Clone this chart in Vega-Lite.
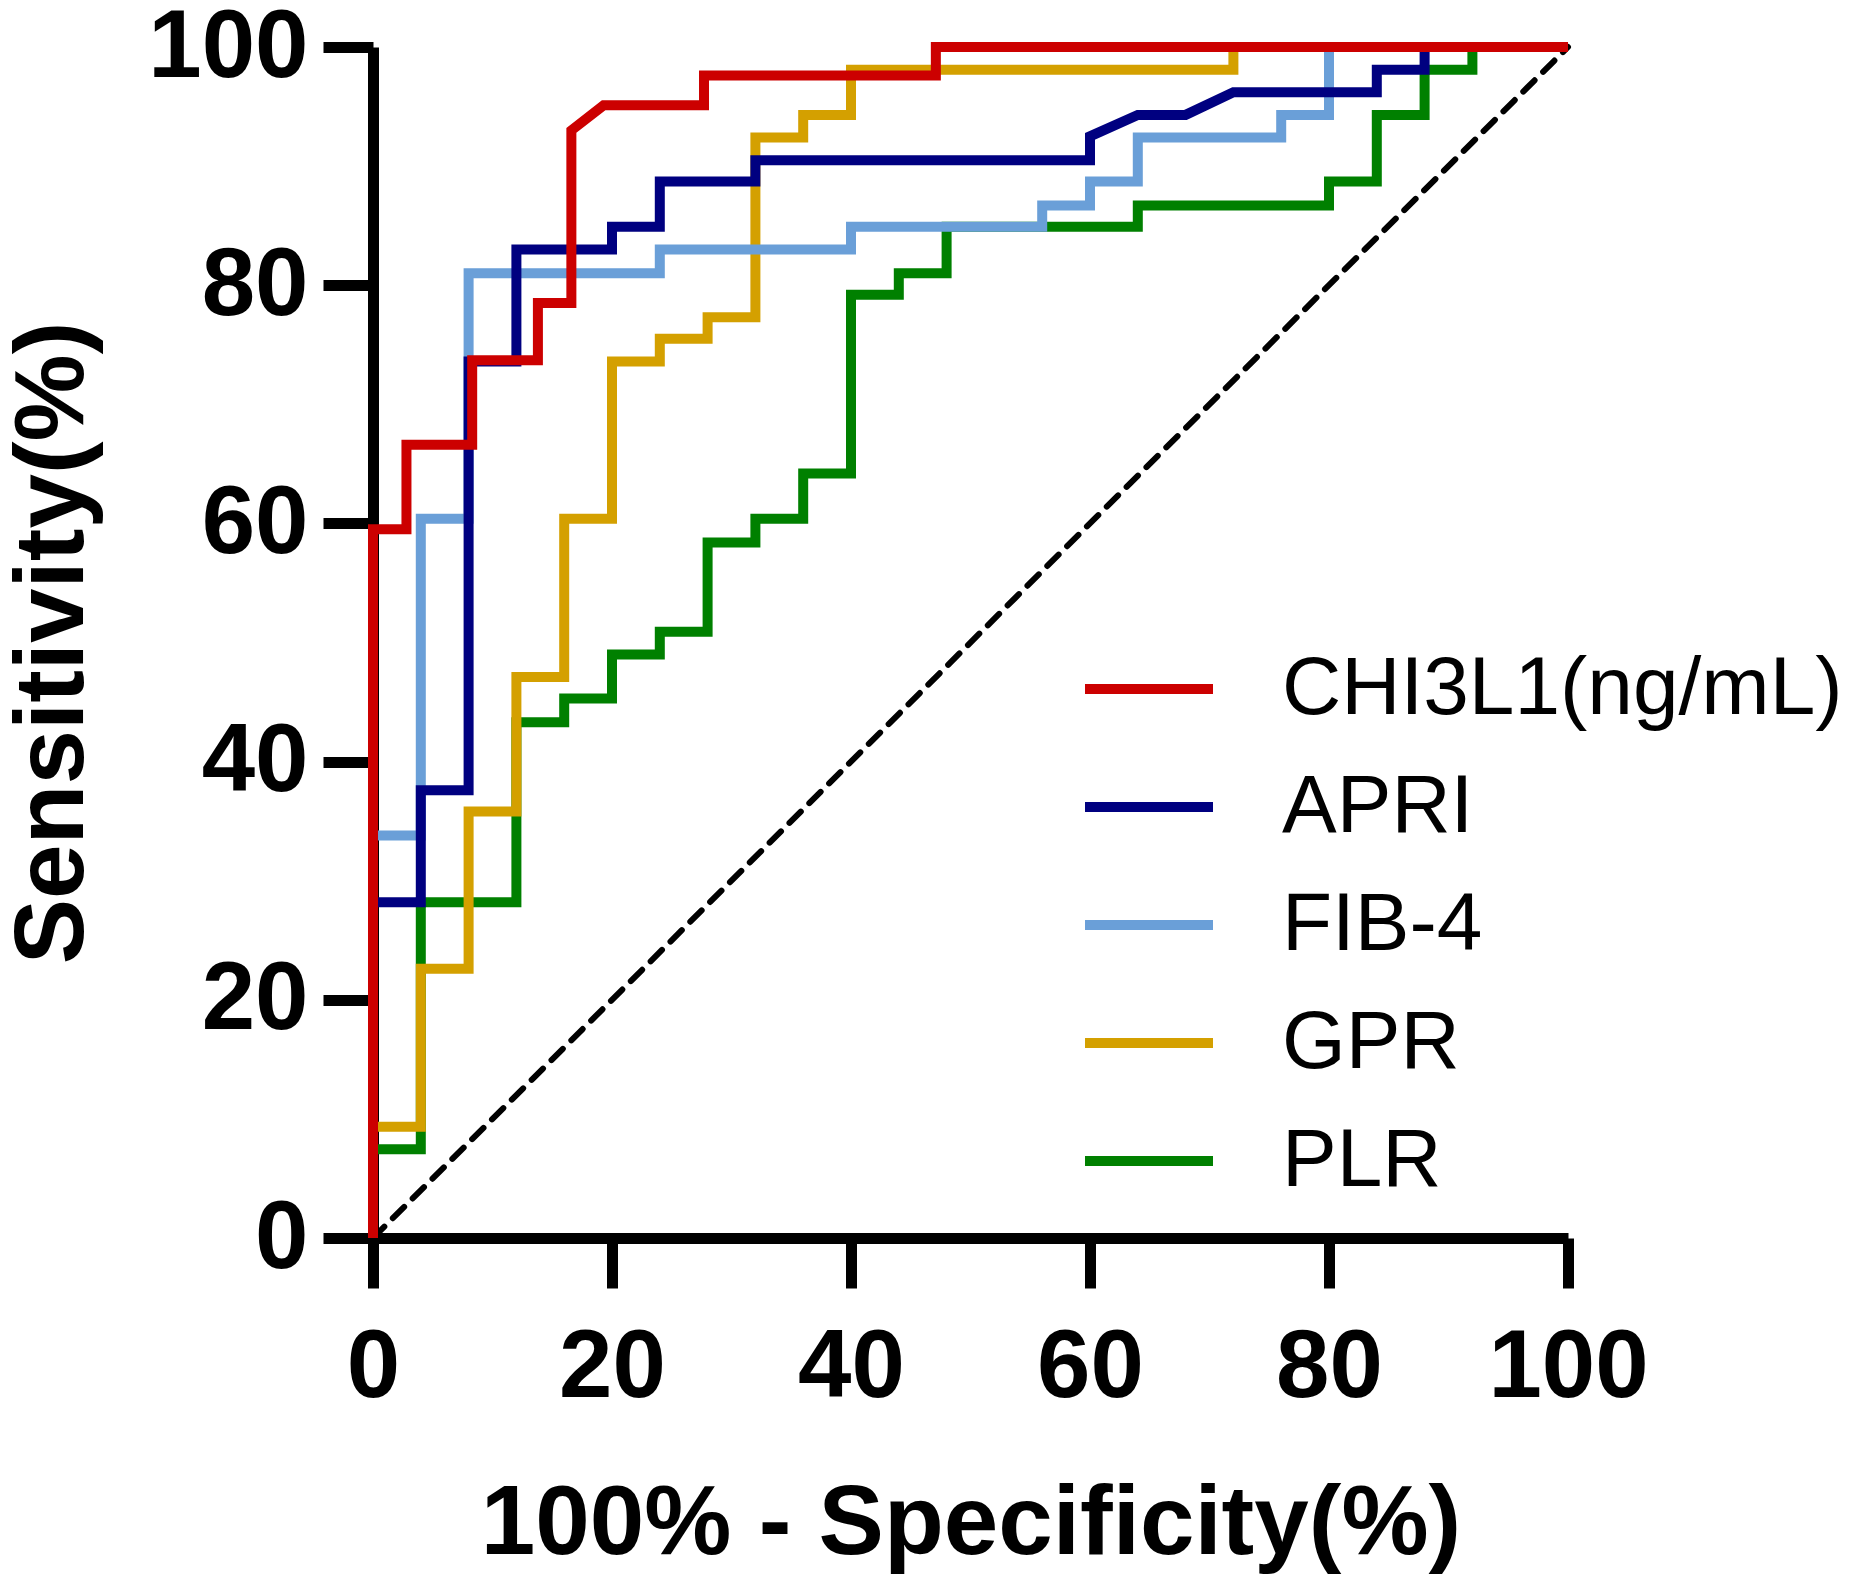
{
  "$schema": "https://vega.github.io/schema/vega-lite/v6.json",
  "width": 1195,
  "height": 1191,
  "autosize": {"type": "none"},
  "padding": {"left": 373, "top": 47, "right": 283, "bottom": 350},
  "background": "white",
  "config": {"view": {"stroke": null}, "font": "Liberation Sans"},
  "datasets": {
    "diag": [{"x": 0, "y": 0}, {"x": 100, "y": 100}],
    "roc": [
      {"m": "PLR", "x": 0, "y": 0}, {"m": "PLR", "x": 0, "y": 7.45}, {"m": "PLR", "x": 4, "y": 7.45}, {"m": "PLR", "x": 4, "y": 28.2},
      {"m": "PLR", "x": 12, "y": 28.2}, {"m": "PLR", "x": 12, "y": 43.3}, {"m": "PLR", "x": 16, "y": 43.3}, {"m": "PLR", "x": 16, "y": 45.3},
      {"m": "PLR", "x": 20, "y": 45.3}, {"m": "PLR", "x": 20, "y": 49.0}, {"m": "PLR", "x": 24, "y": 49.0}, {"m": "PLR", "x": 24, "y": 50.9},
      {"m": "PLR", "x": 28, "y": 50.9}, {"m": "PLR", "x": 28, "y": 58.4}, {"m": "PLR", "x": 32, "y": 58.4}, {"m": "PLR", "x": 32, "y": 60.4},
      {"m": "PLR", "x": 36, "y": 60.4}, {"m": "PLR", "x": 36, "y": 64.2}, {"m": "PLR", "x": 40, "y": 64.2}, {"m": "PLR", "x": 40, "y": 79.2},
      {"m": "PLR", "x": 44, "y": 79.2}, {"m": "PLR", "x": 44, "y": 81.0}, {"m": "PLR", "x": 48, "y": 81.0}, {"m": "PLR", "x": 48, "y": 84.9},
      {"m": "PLR", "x": 64, "y": 84.9}, {"m": "PLR", "x": 64, "y": 86.7}, {"m": "PLR", "x": 80, "y": 86.7}, {"m": "PLR", "x": 80, "y": 88.7},
      {"m": "PLR", "x": 84, "y": 88.7}, {"m": "PLR", "x": 84, "y": 94.3}, {"m": "PLR", "x": 88, "y": 94.3}, {"m": "PLR", "x": 88, "y": 98.1},
      {"m": "PLR", "x": 92, "y": 98.1}, {"m": "PLR", "x": 92, "y": 100}, {"m": "PLR", "x": 100, "y": 100},

      {"m": "GPR", "x": 0, "y": 0}, {"m": "GPR", "x": 0, "y": 9.35}, {"m": "GPR", "x": 4, "y": 9.35}, {"m": "GPR", "x": 4, "y": 22.6},
      {"m": "GPR", "x": 8, "y": 22.6}, {"m": "GPR", "x": 8, "y": 35.8}, {"m": "GPR", "x": 12, "y": 35.8}, {"m": "GPR", "x": 12, "y": 47.1},
      {"m": "GPR", "x": 16, "y": 47.1}, {"m": "GPR", "x": 16, "y": 60.4}, {"m": "GPR", "x": 20, "y": 60.4}, {"m": "GPR", "x": 20, "y": 73.6},
      {"m": "GPR", "x": 24, "y": 73.6}, {"m": "GPR", "x": 24, "y": 75.5}, {"m": "GPR", "x": 28, "y": 75.5}, {"m": "GPR", "x": 28, "y": 77.3},
      {"m": "GPR", "x": 32, "y": 77.3}, {"m": "GPR", "x": 32, "y": 92.4}, {"m": "GPR", "x": 36, "y": 92.4}, {"m": "GPR", "x": 36, "y": 94.3},
      {"m": "GPR", "x": 40, "y": 94.3}, {"m": "GPR", "x": 40, "y": 98.1}, {"m": "GPR", "x": 72, "y": 98.1}, {"m": "GPR", "x": 72, "y": 100},
      {"m": "GPR", "x": 100, "y": 100},

      {"m": "FIB-4", "x": 0, "y": 0}, {"m": "FIB-4", "x": 0, "y": 33.8}, {"m": "FIB-4", "x": 4, "y": 33.8}, {"m": "FIB-4", "x": 4, "y": 60.4},
      {"m": "FIB-4", "x": 8, "y": 60.4}, {"m": "FIB-4", "x": 8, "y": 81.0}, {"m": "FIB-4", "x": 24, "y": 81.0}, {"m": "FIB-4", "x": 24, "y": 83.0},
      {"m": "FIB-4", "x": 40, "y": 83.0}, {"m": "FIB-4", "x": 40, "y": 84.9}, {"m": "FIB-4", "x": 56, "y": 84.9}, {"m": "FIB-4", "x": 56, "y": 86.7},
      {"m": "FIB-4", "x": 60, "y": 86.7}, {"m": "FIB-4", "x": 60, "y": 88.7}, {"m": "FIB-4", "x": 64, "y": 88.7}, {"m": "FIB-4", "x": 64, "y": 92.4},
      {"m": "FIB-4", "x": 76, "y": 92.4}, {"m": "FIB-4", "x": 76, "y": 94.3}, {"m": "FIB-4", "x": 80, "y": 94.3}, {"m": "FIB-4", "x": 80, "y": 100},
      {"m": "FIB-4", "x": 100, "y": 100},

      {"m": "APRI", "x": 0, "y": 0}, {"m": "APRI", "x": 0, "y": 28.2}, {"m": "APRI", "x": 4, "y": 28.2}, {"m": "APRI", "x": 4, "y": 37.6},
      {"m": "APRI", "x": 8, "y": 37.6}, {"m": "APRI", "x": 8, "y": 73.6}, {"m": "APRI", "x": 12, "y": 73.6}, {"m": "APRI", "x": 12, "y": 83.0},
      {"m": "APRI", "x": 20, "y": 83.0}, {"m": "APRI", "x": 20, "y": 84.9}, {"m": "APRI", "x": 24, "y": 84.9}, {"m": "APRI", "x": 24, "y": 88.7},
      {"m": "APRI", "x": 32, "y": 88.7}, {"m": "APRI", "x": 32, "y": 90.5}, {"m": "APRI", "x": 60, "y": 90.5}, {"m": "APRI", "x": 60, "y": 92.5},
      {"m": "APRI", "x": 64, "y": 94.3}, {"m": "APRI", "x": 68, "y": 94.3}, {"m": "APRI", "x": 72, "y": 96.2}, {"m": "APRI", "x": 84, "y": 96.2},
      {"m": "APRI", "x": 84, "y": 98.1}, {"m": "APRI", "x": 88, "y": 98.1}, {"m": "APRI", "x": 88, "y": 100}, {"m": "APRI", "x": 100, "y": 100},

      {"m": "CHI3L1(ng/mL)", "x": 0, "y": 0}, {"m": "CHI3L1(ng/mL)", "x": 0, "y": 59.5}, {"m": "CHI3L1(ng/mL)", "x": 2.8, "y": 59.5},
      {"m": "CHI3L1(ng/mL)", "x": 2.8, "y": 66.6}, {"m": "CHI3L1(ng/mL)", "x": 8.3, "y": 66.6}, {"m": "CHI3L1(ng/mL)", "x": 8.3, "y": 73.7},
      {"m": "CHI3L1(ng/mL)", "x": 13.8, "y": 73.7}, {"m": "CHI3L1(ng/mL)", "x": 13.8, "y": 78.5}, {"m": "CHI3L1(ng/mL)", "x": 16.6, "y": 78.5},
      {"m": "CHI3L1(ng/mL)", "x": 16.6, "y": 93.0}, {"m": "CHI3L1(ng/mL)", "x": 19.3, "y": 95.1}, {"m": "CHI3L1(ng/mL)", "x": 27.7, "y": 95.1},
      {"m": "CHI3L1(ng/mL)", "x": 27.7, "y": 97.6}, {"m": "CHI3L1(ng/mL)", "x": 47.1, "y": 97.6}, {"m": "CHI3L1(ng/mL)", "x": 47.1, "y": 100},
      {"m": "CHI3L1(ng/mL)", "x": 100, "y": 100}
    ]
  },
  "layer": [
    {
      "data": {"name": "diag"},
      "mark": {"type": "line", "color": "black", "strokeWidth": 6, "strokeDash": [16, 12], "strokeCap": "round"},
      "encoding": {
        "x": {"field": "x", "type": "quantitative", "scale": {"domain": [0, 100], "nice": false}},
        "y": {"field": "y", "type": "quantitative", "scale": {"domain": [0, 100], "nice": false}}
      }
    },
    {
      "data": {"name": "roc"},
      "mark": {"type": "line", "strokeWidth": 10, "strokeJoin": "miter", "strokeCap": "butt"},
      "encoding": {
        "x": {
          "field": "x", "type": "quantitative",
          "scale": {"domain": [0, 100], "nice": false},
          "axis": {
            "values": [0, 20, 40, 60, 80, 100], "grid": false,
            "domainColor": "black", "domainWidth": 11,
            "tickColor": "black", "tickWidth": 11, "tickSize": 50,
            "labelFontSize": 96, "labelFontWeight": "bold", "labelColor": "black", "labelPadding": 32, "labelFlush": false,
            "title": "100% - Specificity(%)", "titleFontSize": 98, "titleFontWeight": "bold", "titleColor": "black", "titlePadding": 61
          }
        },
        "y": {
          "field": "y", "type": "quantitative",
          "scale": {"domain": [0, 100], "nice": false},
          "axis": {
            "values": [0, 20, 40, 60, 80, 100], "grid": false,
            "domainColor": "black", "domainWidth": 11,
            "tickColor": "black", "tickWidth": 11, "tickSize": 50,
            "labelFontSize": 96, "labelFontWeight": "bold", "labelColor": "black", "labelPadding": 15, "labelFlush": false,
            "title": "Sensitivity(%)", "titleFontSize": 98, "titleFontWeight": "bold", "titleColor": "black", "titlePadding": 70
          }
        },
        "color": {
          "field": "m", "type": "nominal",
          "scale": {
            "domain": ["CHI3L1(ng/mL)", "APRI", "FIB-4", "GPR", "PLR"],
            "range": ["#CC0000", "#000080", "#6A9FD8", "#D4A000", "#008000"]
          },
          "legend": {
            "orient": "none", "legendX": 707, "legendY": 573, "title": null, "padding": 0,
            "symbolType": "stroke", "symbolSize": 16384, "symbolStrokeWidth": 10,
            "labelFontSize": 82, "labelFont": "Liberation Sans", "labelColor": "black",
            "labelOffset": 64, "rowPadding": 8, "labelLimit": 0
          }
        },
        "order": {"value": null}
      }
    }
  ]
}
